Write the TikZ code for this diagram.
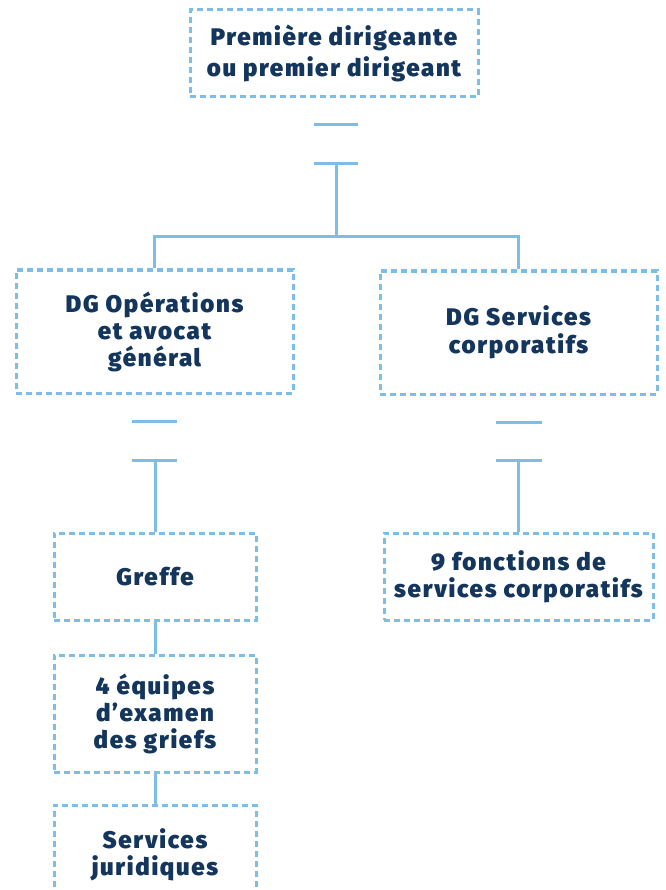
\documentclass[tikz,border=0pt]{standalone}
\usepackage{fontspec}
\IfFontExistsTF{Fira Sans Black}
  {\setmainfont{Fira Sans}[BoldFont={Fira Sans Black}, LetterSpace=7]}
  {\setmainfont{Fira Sans}[BoldFeatures={FakeBold=2}, LetterSpace=7]}
\definecolor{lineblue}{HTML}{7DBDE8}
\definecolor{navy}{HTML}{14365C}
\begin{document}
\begin{tikzpicture}[x=1pt,y=-1pt,
  box/.style={draw=lineblue, line width=3pt, dash pattern=on 6pt off 4pt,
    align=center, text=navy, inner sep=0pt,
    font=\bfseries\fontsize{24}{27}\selectfont},
  conn/.style={draw=lineblue, line width=3pt}]
\useasboundingbox (0,0) rectangle (665,890);
\node[box, minimum width=288pt, minimum height=87pt, font=\bfseries\fontsize{24}{31}\selectfont] (top) at (334,53.5) {Première dirigeante\\ou premier dirigeant};
\node[box, minimum width=277pt, minimum height=123pt] (dgo) at (154.5,331.5) {DG Opérations\\et avocat\\général};
\node[box, minimum width=277pt, minimum height=123pt, font=\bfseries\fontsize{24}{28}\selectfont] (dgs) at (518.5,332.5) {DG Services\\corporatifs};
\node[box, minimum width=202pt, minimum height=87pt] (greffe) at (155,576.5) {Greffe};
\node[box, minimum width=202pt, minimum height=117pt] (equipes) at (155,713.5) {4 équipes\\d’examen\\des griefs};
\node[box, minimum width=202pt, minimum height=100pt] (jur) at (155,855) {Services\\juridiques};
\node[box, minimum width=269pt, minimum height=87pt] (fonc) at (518.5,576.5) {9 fonctions de\\services corporatifs};
% break marks
\coordinate (a1) at (314,125); \coordinate (a2) at (358,125);
\coordinate (b1) at (314,164); \coordinate (b2) at (358,164);
\coordinate (bt) at (336,164); \coordinate (j) at (336,237);
\draw[conn] (a1) -- (a2);
\draw[conn] (b1) -- (b2);
\draw[conn] (bt) -- (j);
\draw[conn] (dgo.north) |- (j) -| (dgs.north);
\coordinate (c1) at (132,421); \coordinate (c2) at (177,421);
\coordinate (d1) at (132,460); \coordinate (d2) at (177,460);
\coordinate (dt) at (155,460);
\draw[conn] (c1) -- (c2);
\draw[conn] (d1) -- (d2);
\draw[conn] (dt) -- (greffe.north);
\coordinate (e1) at (496,422); \coordinate (e2) at (542,422);
\coordinate (f1) at (496,460); \coordinate (f2) at (542,460);
\coordinate (ft) at (518.5,460);
\draw[conn] (e1) -- (e2);
\draw[conn] (f1) -- (f2);
\draw[conn] (ft) -- (fonc.north);
\draw[conn] (greffe.south) -- (equipes.north);
\draw[conn] (equipes.south) -- (jur.north);
\end{tikzpicture}
\end{document}
